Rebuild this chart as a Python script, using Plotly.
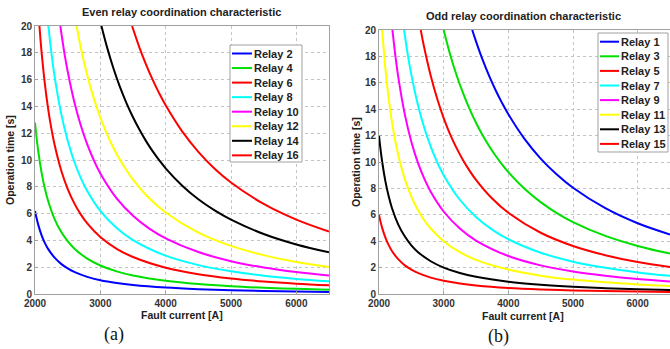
import plotly.graph_objects as go

# ---------------- Even relays (left panel) : fault current [A] -> operation time [s] ----------------
even_names = ["Relay 2", "Relay 4", "Relay 6", "Relay 8", "Relay 10", "Relay 12", "Relay 14", "Relay 16"]
even_colors = ["#0000ff", "#00e000", "#ff0000", "#00ffff", "#ff00ff", "#ffff00", "#000000", "#ff0000"]

low_i = [2000, 2020, 2050, 2100, 2150, 2200, 2300, 2400, 2500, 2600, 2800, 3000, 3250, 3500, 4000, 4500, 5000, 5500, 6000, 6500]

r2_i = low_i
r2_t = [6.2, 5.74, 5.16, 4.40, 3.82, 3.37, 2.71, 2.25, 1.91, 1.65, 1.28, 1.03, 0.82, 0.67, 0.477, 0.359, 0.282, 0.228, 0.188, 0.158]
r4_i = low_i
r4_t = [12.8, 11.85, 10.64, 9.08, 7.89, 6.96, 5.59, 4.64, 3.94, 3.40, 2.64, 2.13, 1.69, 1.38, 0.985, 0.742, 0.582, 0.470, 0.388, 0.326]
r6_i = [2068, 2100, 2150, 2200, 2250, 2300, 2400, 2500, 2600, 2700, 2800, 3000, 3250, 3500, 4000, 4500, 5000, 5500, 6000, 6500]
r6_t = [20, 18.09, 15.72, 13.86, 12.36, 11.14, 9.24, 7.85, 6.78, 5.94, 5.27, 4.25, 3.37, 2.76, 1.96, 1.478, 1.159, 0.936, 0.773, 0.650]
r8_i = [2205, 2250, 2300, 2400, 2500, 2600, 2700, 2800, 3000, 3250, 3500, 4000, 4500, 5000, 5500, 6000, 6500]
r8_t = [20, 18.04, 16.24, 13.48, 11.45, 9.89, 8.67, 7.69, 6.20, 4.92, 4.02, 2.86, 2.157, 1.691, 1.365, 1.127, 0.948]
r10_i = [2388, 2450, 2500, 2600, 2700, 2800, 2900, 3000, 3250, 3500, 3750, 4000, 4500, 5000, 5500, 6000, 6500]
r10_t = [20, 17.98, 16.62, 14.36, 12.59, 11.16, 9.98, 9.0, 7.14, 5.84, 4.88, 4.15, 3.13, 2.45, 1.98, 1.636, 1.376]
r12_i = [2636, 2700, 2800, 2900, 3000, 3100, 3200, 3300, 3400, 3500, 3750, 4000, 4500, 5000, 5500, 6000, 6500]
r12_t = [20, 18.41, 16.32, 14.60, 13.17, 11.95, 10.91, 10.01, 9.23, 8.54, 7.14, 6.08, 4.58, 3.59, 2.90, 2.39, 2.01]
r14_i = [3017, 3100, 3200, 3300, 3400, 3500, 3600, 3700, 3800, 3900, 4000, 4250, 4500, 4750, 5000, 5500, 6000, 6500]
r14_t = [20, 18.46, 16.85, 15.46, 14.25, 13.19, 12.25, 11.41, 10.66, 9.99, 9.38, 8.10, 7.07, 6.24, 5.55, 4.48, 3.70, 3.11]
r16_i = [3486, 3600, 3700, 3800, 3900, 4000, 4250, 4500, 4750, 5000, 5500, 6000, 6500]
r16_t = [20, 18.37, 17.12, 16.00, 14.99, 14.08, 12.15, 10.61, 9.35, 8.32, 6.72, 5.55, 4.66]

even_i = [r2_i, r4_i, r6_i, r8_i, r10_i, r12_i, r14_i, r16_i]
even_t = [r2_t, r4_t, r6_t, r8_t, r10_t, r12_t, r14_t, r16_t]

# ---------------- Odd relays (right panel) ----------------
odd_names = ["Relay 1", "Relay 3", "Relay 5", "Relay 7", "Relay 9", "Relay 11", "Relay 13", "Relay 15"]
odd_colors = ["#0000ff", "#00e000", "#ff0000", "#00ffff", "#ff00ff", "#ffff00", "#000000", "#ff0000"]

r1_i = [3442, 3500, 3600, 3700, 3800, 3900, 4000, 4250, 4500, 4750, 5000, 5500, 6000, 6500]
r1_t = [20, 19.14, 17.77, 16.56, 15.47, 14.50, 13.62, 11.75, 10.26, 9.05, 8.05, 6.50, 5.36, 4.51]
r3_i = [3000, 3100, 3200, 3300, 3400, 3500, 3600, 3700, 3800, 3900, 4000, 4250, 4500, 4750, 5000, 5500, 6000, 6500]
r3_t = [20, 18.15, 16.57, 15.21, 14.02, 12.97, 12.05, 11.23, 10.49, 9.83, 9.23, 7.97, 6.96, 6.13, 5.45, 4.40, 3.64, 3.06]
r5_i = [2646, 2700, 2800, 2900, 3000, 3100, 3200, 3300, 3400, 3500, 3750, 4000, 4500, 5000, 5500, 6000, 6500]
r5_t = [20, 18.65, 16.53, 14.79, 13.33, 12.10, 11.05, 10.14, 9.35, 8.65, 7.23, 6.15, 4.64, 3.64, 2.94, 2.42, 2.04]
r7_i = [2388, 2450, 2500, 2600, 2700, 2800, 2900, 3000, 3250, 3500, 3750, 4000, 4500, 5000, 5500, 6000, 6500]
r7_t = [20, 17.98, 16.62, 14.36, 12.59, 11.16, 9.98, 9.0, 7.14, 5.84, 4.88, 4.15, 3.13, 2.45, 1.98, 1.636, 1.376]
r9_i = [2208, 2250, 2300, 2400, 2500, 2600, 2700, 2800, 3000, 3250, 3500, 4000, 4500, 5000, 5500, 6000, 6500]
r9_t = [20, 18.18, 16.38, 13.59, 11.54, 9.97, 8.74, 7.75, 6.25, 4.96, 4.05, 2.88, 2.17, 1.70, 1.38, 1.136, 0.955]
r11_i = [2049, 2100, 2150, 2200, 2250, 2300, 2400, 2500, 2600, 2700, 2800, 3000, 3250, 3500, 4000, 4500, 5000, 5500, 6000, 6500]
r11_t = [20, 17.02, 14.79, 13.04, 11.64, 10.48, 8.70, 7.38, 6.38, 5.59, 4.96, 4.0, 3.17, 2.59, 1.85, 1.39, 1.09, 0.881, 0.727, 0.611]
r13_i = low_i
r13_t = [12.0, 11.11, 9.98, 8.51, 7.40, 6.52, 5.24, 4.35, 3.69, 3.19, 2.48, 2.0, 1.59, 1.30, 0.923, 0.696, 0.545, 0.440, 0.364, 0.306]
r15_i = low_i
r15_t = [6.0, 5.55, 4.99, 4.26, 3.70, 3.26, 2.62, 2.17, 1.85, 1.60, 1.24, 1.0, 0.793, 0.649, 0.462, 0.348, 0.273, 0.220, 0.182, 0.153]

odd_i = [r1_i, r3_i, r5_i, r7_i, r9_i, r11_i, r13_i, r15_i]
odd_t = [r1_t, r3_t, r5_t, r7_t, r9_t, r11_t, r13_t, r15_t]

x_ticks = [2000, 3000, 4000, 5000, 6000]
y_ticks = [0, 2, 4, 6, 8, 10, 12, 14, 16, 18, 20]

W, H = 670, 349
FONT = "Liberation Sans"


def px(x):
    return x / W


def py(y):
    return 1 - y / H


fig = go.Figure()
for n, c, xi, yi in zip(even_names, even_colors, even_i, even_t):
    fig.add_trace(go.Scatter(x=xi, y=yi, name=n, mode="lines", showlegend=False,
                             line=dict(color=c, width=2, shape="spline", smoothing=1.0),
                             xaxis="x", yaxis="y", cliponaxis=True))
for n, c, xi, yi in zip(odd_names, odd_colors, odd_i, odd_t):
    fig.add_trace(go.Scatter(x=xi, y=yi, name=n, mode="lines", showlegend=False,
                             line=dict(color=c, width=2, shape="spline", smoothing=1.0),
                             xaxis="x2", yaxis="y2", cliponaxis=True))

axis_common = dict(showgrid=True, gridcolor="#c4c4c4", griddash="dot", gridwidth=1,
                   showline=True, linecolor="#a0a0a0", linewidth=1, mirror=True,
                   ticks="inside", ticklen=3, tickcolor="#a0a0a0", zeroline=False, automargin=False,
                   tickfont=dict(family=FONT, size=10, color="#333333", weight="bold"))

fig.update_layout(
    width=W, height=H, margin=dict(l=0, r=0, t=0, b=0, autoexpand=False),
    paper_bgcolor="white", plot_bgcolor="white", showlegend=False,
    xaxis=dict(domain=[px(35), px(329)], range=[2000, 6500], tickvals=x_ticks, anchor="y", **axis_common),
    yaxis=dict(domain=[py(294), py(26)], range=[0, 20], tickvals=y_ticks, anchor="x", **axis_common),
    xaxis2=dict(domain=[px(379), px(670)], range=[2000, 6500], tickvals=x_ticks, anchor="y2", **axis_common),
    yaxis2=dict(domain=[py(294), py(30)], range=[0, 20], tickvals=y_ticks, anchor="x2", **axis_common),
)

shapes = []
ann = []


def add_legend(names, colors, x0, x1, y0, y1, first_y, step, lx0, lx1, tx):
    shapes.append(dict(type="rect", xref="paper", yref="paper", x0=px(x0), x1=px(x1), y0=py(y1), y1=py(y0),
                       line=dict(color="#a0a0a0", width=1), fillcolor="white", layer="above"))
    for k, (n, c) in enumerate(zip(names, colors)):
        yy = first_y + k * step
        shapes.append(dict(type="line", xref="paper", yref="paper", x0=px(lx0), x1=px(lx1), y0=py(yy), y1=py(yy),
                           line=dict(color=c, width=2), layer="above"))
        ann.append(dict(text="<b>" + n + "</b>", x=px(tx), y=py(yy), xref="paper", yref="paper", showarrow=False,
                        xanchor="left", yanchor="middle", font=dict(family=FONT, size=11, color="#222222")))


add_legend(even_names, even_colors, 230, 302, 45, 162, 53.5, 14.55, 232, 252, 252)
add_legend(odd_names, odd_colors, 598, 668, 33, 152, 41.7, 14.6, 600, 619, 619)

bold = dict(family=FONT, size=11, color="#222222")
ann.append(dict(text="<b>Even relay coordination characteristic</b>", x=px(182), y=py(12), xref="paper", yref="paper",
                showarrow=False, font=bold, xanchor="center", yanchor="middle"))
ann.append(dict(text="<b>Odd relay coordination characteristic</b>", x=px(523), y=py(16), xref="paper", yref="paper",
                showarrow=False, font=bold, xanchor="center", yanchor="middle"))
axt = dict(family=FONT, size=10.5, color="#222222")
ann.append(dict(text="<b>Fault current [A]</b>", x=px(182), y=py(315), xref="paper", yref="paper",
                showarrow=False, font=axt, xanchor="center", yanchor="middle"))
ann.append(dict(text="<b>Fault current [A]</b>", x=px(523), y=py(316), xref="paper", yref="paper",
                showarrow=False, font=axt, xanchor="center", yanchor="middle"))
ann.append(dict(text="<b>Operation time [s]</b>", x=px(10), y=py(160), xref="paper", yref="paper", textangle=-90,
                showarrow=False, font=axt, xanchor="center", yanchor="middle"))
ann.append(dict(text="<b>Operation time [s]</b>", x=px(356), y=py(162), xref="paper", yref="paper", textangle=-90,
                showarrow=False, font=axt, xanchor="center", yanchor="middle"))
serif = dict(family="Liberation Serif", size=18, color="#111111")
ann.append(dict(text="(a)", x=px(114), y=py(334), xref="paper", yref="paper",
                showarrow=False, font=serif, xanchor="center", yanchor="middle"))
ann.append(dict(text="(b)", x=px(498), y=py(336), xref="paper", yref="paper",
                showarrow=False, font=serif, xanchor="center", yanchor="middle"))

fig.update_layout(annotations=ann, shapes=shapes)

fig.write_html("out.html", config={"displayModeBar": False},
               post_script="document.body.style.margin='0px';document.body.style.overflow='hidden';")
